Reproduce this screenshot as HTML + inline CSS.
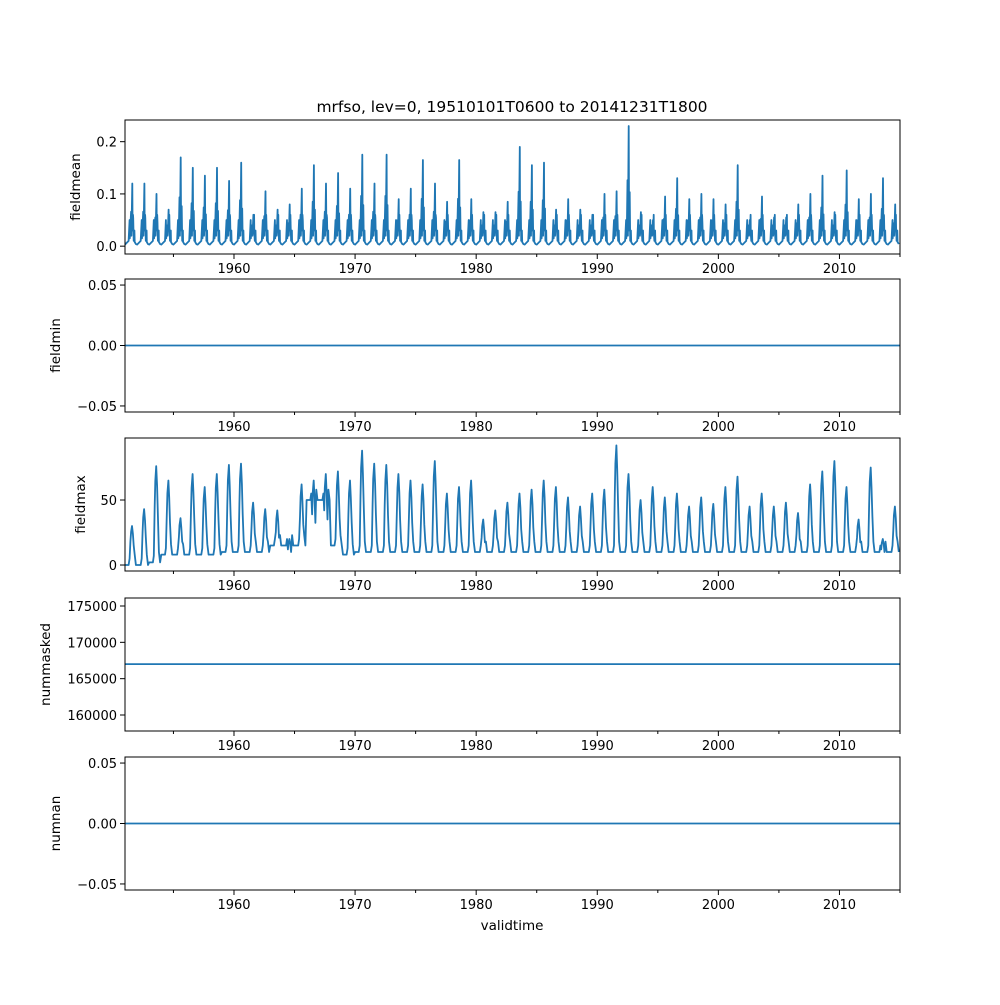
<!DOCTYPE html>
<html><head><meta charset="utf-8"><style>
body{margin:0;background:#fff}
text{font-family:"DejaVu Sans","Liberation Sans",sans-serif;fill:#000}
</style></head><body>
<svg id="fig" width="1000" height="1000" xmlns="http://www.w3.org/2000/svg">
<text x="512" y="112" font-size="15.5" text-anchor="middle">mrfso, lev=0, 19510101T0600 to 20141231T1800</text>
<text x="512" y="930" font-size="13.5" text-anchor="middle">validtime</text>
</svg>
<script>
const years=[];for(let y=1951;y<=2014;y++)years.push(y);
const meanPeak=[0.12,0.12,0.10,0.07,0.17,0.15,0.135,0.15,0.125,0.16,0.06,0.105,0.07,0.08,0.11,0.155,0.12,0.14,0.11,0.175,0.12,0.175,0.09,0.11,0.165,0.12,0.085,0.165,0.09,0.065,0.065,0.085,0.19,0.155,0.16,0.07,0.09,0.07,0.06,0.10,0.105,0.23,0.065,0.05,0.095,0.13,0.09,0.10,0.09,0.08,0.155,0.05,0.095,0.055,0.055,0.08,0.10,0.135,0.065,0.145,0.09,0.10,0.13,0.08];
const maxPeak=[30,43,76,65,36,70,60,70,77,78,48,43,42,20,62,65,70,72,65,88,78,77,70,65,62,80,55,60,65,35,42,48,55,58,65,60,52,45,55,58,92,70,50,60,52,55,45,52,47,60,68,45,55,45,48,40,62,72,80,60,35,75,20,45];
const maxBase=[0,0,2,8,8,8,8,8,10,10,10,10,15,15,15,50,50,15,8,10,10,10,10,10,10,10,10,10,10,10,10,10,10,10,10,10,10,10,10,10,10,10,10,10,10,10,10,10,10,10,10,10,10,10,10,10,10,10,10,10,10,10,10,10];
const minVal=0, nummaskedVal=167000, numnanVal=0;
const xTicks=[1960,1970,1980,1990,2000,2010];
const xMinor=[1955,1965,1975,1985,1995,2005,2015];
const panels=[
 {name:'fieldmean',top:120,bot:254,ymin:-0.015,ymax:0.2415,ticks:[0,0.1,0.2],labels:['0.0','0.1','0.2']},
 {name:'fieldmin',top:279,bot:412,ymin:-0.055,ymax:0.055,ticks:[-0.05,0,0.05],labels:['−0.05','0.00','0.05']},
 {name:'fieldmax',top:438,bot:571,ymin:-4.6,ymax:97.7,ticks:[0,50],labels:['0','50']},
 {name:'nummasked',top:598,bot:731,ymin:157800,ymax:176100,ticks:[160000,165000,170000,175000],labels:['160000','165000','170000','175000']},
 {name:'numnan',top:757,bot:890,ymin:-0.055,ymax:0.055,ticks:[-0.05,0,0.05],labels:['−0.05','0.00','0.05']}
];
const X0=125,X1=900,T0=1951.0,T1=2015.0;
const sx=t=>X0+(t-T0)/(T1-T0)*(X1-X0);
const NS='http://www.w3.org/2000/svg';
const svg=document.getElementById('fig');
function mk(tag,attrs,parent){const e=document.createElementNS(NS,tag);for(const k in attrs)e.setAttribute(k,attrs[k]);(parent||svg).appendChild(e);return e;}
function series(i){
 const pts=[];
 if(i===0){years.forEach((y,k)=>{const p=meanPeak[k];
  [[0,0.003],[0.3,0.01],[0.38,0.05],[0.4,0.015],[0.45,0.04],[0.5,p*0.55],[0.53,0.02],[0.6,p],[0.63,0.03],[0.66,0.06],[0.68,p*0.45],[0.72,0.01],[0.78,0.03],[0.8,0.008],[0.9,0.004]].forEach(a=>pts.push([y+a[0],a[1]]));});}
 else if(i===2){years.forEach((y,k)=>{const p=maxPeak[k],b=maxBase[k];
  [[0,b],[0.3,b],[0.38,b+5],[0.45,p*0.6],[0.5,p*0.85],[0.58,p],[0.65,p*0.8],[0.72,p*0.5],[0.8,b+8],[0.9,b]].forEach(a=>pts.push([y+a[0],a[1]]));});}
 else {const v=i===1?minVal:i===3?nummaskedVal:numnanVal;pts.push([T0,v],[T1,v]);}
 return pts;
}
panels.forEach((P,i)=>{
 const g=mk('g',{});
 
 
 const sy=v=>P.bot-(v-P.ymin)/(P.ymax-P.ymin)*(P.bot-P.top);
 const pts=series(i).map(p=>sx(p[0]).toFixed(1)+','+sy(p[1]).toFixed(1)).join(' ');
 const cp=mk('clipPath',{id:'c'+i},g);mk('rect',{x:X0,y:P.top,width:X1-X0,height:P.bot-P.top},cp);
 const ln=mk('polyline',{points:pts,fill:'none',stroke:'#1f77b4','stroke-width':1.8,'stroke-linejoin':'round','clip-path':'url(#c'+i+')'},g);
 
 
 const fr=mk('rect',{x:X0,y:P.top,width:X1-X0,height:P.bot-P.top,fill:'none',stroke:'#000','stroke-width':1},g);
 
 
 xTicks.forEach(t=>{const x=sx(t);mk('line',{x1:x,x2:x,y1:P.bot,y2:P.bot+5,stroke:'#000'},g);
  const tx=mk('text',{x:x,y:P.bot+19,'font-size':13,'text-anchor':'middle'},g);tx.textContent=t;
  
  });
 xMinor.forEach(t=>{const x=sx(t);if(x<=X1+1)mk('line',{x1:x,x2:x,y1:P.bot,y2:P.bot+3,stroke:'#000'},g);});
 P.ticks.forEach((v,k)=>{const y=sy(v);mk('line',{x1:X0-5,x2:X0,y1:y,y2:y,stroke:'#000'},g);
  const tx=mk('text',{x:X0-8,y:y+5,'font-size':13,'text-anchor':'end'},g);tx.textContent=P.labels[k];
  
  });
 const lx={fieldmean:80,fieldmin:60,fieldmax:85,nummasked:50,numnan:60}[P.name];
 const cy=(P.top+P.bot)/2;
 const yl=mk('text',{x:lx,y:cy,'font-size':13.5,'text-anchor':'middle',transform:'rotate(-90 '+lx+' '+cy+')'},g);
 yl.textContent=P.name;
 
 
});
</script>
</body></html>
